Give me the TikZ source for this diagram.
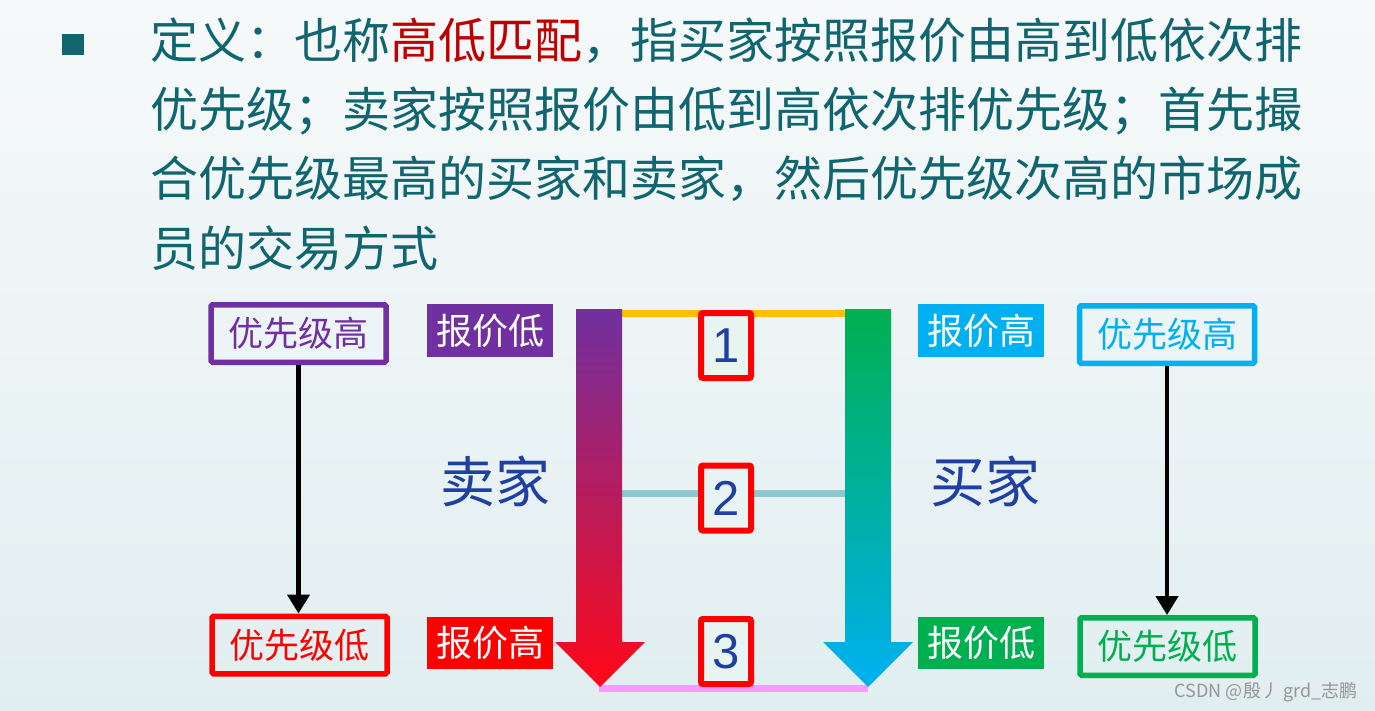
\documentclass[tikz,border=0pt]{standalone}
\usepackage{fontspec}
\usetikzlibrary{arrows.meta}
\newfontfamily\cjk{Noto Sans CJK SC}
\newfontfamily\arialf{Liberation Sans}
\definecolor{titlecol}{HTML}{10656E}
\definecolor{hired}{HTML}{C00000}
\definecolor{purp}{HTML}{7030A0}
\definecolor{redc}{HTML}{FF0000}
\definecolor{cyanc}{HTML}{00B0F0}
\definecolor{greenc}{HTML}{00B050}
\definecolor{navy}{HTML}{1F40A0}
\definecolor{orangec}{HTML}{FFC000}
\definecolor{tealline}{HTML}{8CC8CC}
\definecolor{pinkc}{HTML}{FF99FF}
\definecolor{boxfill}{HTML}{E8F4F1}
\definecolor{bgtop}{HTML}{F6F9FA}
\definecolor{bgbot}{HTML}{E1EEF0}
\begin{document}
\begin{tikzpicture}[x=1pt,y=-1pt,
  titletext/.style={inner sep=0pt, anchor=base west, text=titlecol, font=\cjk\fontsize{48}{58}\selectfont},
  outbox/.style={draw=#1, text=#1, line width=5.5pt, inner sep=0pt, minimum width=175pt, minimum height=57.5pt, font=\cjk\fontsize{35}{40}\selectfont, rounded corners=1.5pt},
  fillbox/.style={fill=#1, text=white, inner sep=0pt, minimum width=126pt, minimum height=52.5pt, font=\cjk\fontsize{36}{40}\selectfont},
  numbox/.style={draw=redc, fill=boxfill, line width=6pt, rounded corners=2pt, inner sep=0pt, minimum width=50pt, minimum height=65pt, text=navy, font=\arialf\fontsize{49}{52}\selectfont},
  sidelabel/.style={inner sep=0pt, text=navy, font=\cjk\fontsize{55}{60}\selectfont},
  prioarrow/.style={line width=4.5pt, draw=black, -{Triangle[width=22pt,length=19pt]}},
  bar/.style={line width=7pt}
]
\useasboundingbox (0,0) rectangle (1375,711);
\shade[top color=bgtop, bottom color=bgbot] (0,0) rectangle (1375,711);

% bullet and title
\fill[titlecol] (62,34) rectangle (84,55);
\node[titletext] (l1) at (150,59) {定义：也称{\color{hired}高低匹配}，指买家按照报价由高到低依次排};
\node[titletext] (l2) at (150,128) {优先级；卖家按照报价由低到高依次排优先级；首先撮};
\node[titletext] (l3) at (150,197) {合优先级最高的买家和卖家，然后优先级次高的市场成};
\node[titletext] (l4) at (150,266) {员的交易方式};

% horizontal match bars
\coordinate (o1) at (619,313); \coordinate (o2) at (845,313);
\coordinate (t1) at (621,493); \coordinate (t2) at (847,493);
\coordinate (p1) at (599,688); \coordinate (p2) at (868,688);
\draw[bar, orangec] (o1) -- (o2);
\draw[bar, tealline] (t1) -- (t2);
\draw[bar, pinkc] (p1) -- (p2);

% big gradient arrows
\shade[top color=purp, middle color={rgb,255:red,196;green,40;blue,122}, bottom color={rgb,255:red,255;green,8;blue,24}]
  (576,309) -- (622,309) -- (622,642) -- (645,642) -- (600,687) -- (555,642) -- (576,642) -- cycle;
\shade[top color=greenc, middle color={rgb,255:red,0;green,176;blue,168}, bottom color=cyanc]
  (845,309) -- (891,309) -- (891,642) -- (913,642) -- (868,687) -- (823,642) -- (845,642) -- cycle;

% number boxes
\node[numbox] (n1) at (726,345.5) {1};
\node[numbox] (n2) at (726,498) {2};
\node[numbox] (n3) at (726,651.5) {3};

% seller side
\node[outbox=purp] (slh) at (298.5,333.5) {优先级高};
\node[outbox=redc] (sll) at (299.5,645) {优先级低};
\node[fillbox=purp] (spl) at (490,330.5) {报价低};
\node[fillbox=redc] (sph) at (490,643) {报价高};
\node[sidelabel] (seller) at (495,481) {卖家};
\draw[prioarrow] (slh.south) -- (slh.south |- sll.north);

% buyer side
\node[outbox=cyanc] (bph2) at (1167,334.5) {优先级高};
\node[outbox=greenc] (bpl2) at (1167.5,646.5) {优先级低};
\node[fillbox=cyanc] (bph) at (981,330.5) {报价高};
\node[fillbox=greenc] (bpl) at (981,643) {报价低};
\node[sidelabel] (buyer) at (985,481) {买家};
\draw[prioarrow] (bph2.south) -- (bph2.south |- bpl2.north);

% watermark
\node[inner sep=0pt, text={rgb,255:red,150;green,150;blue,150}, font=\cjk\fontsize{18}{20}\selectfont] (wm) at (1266,692) {CSDN @殷丿 grd\_志鹏};
\end{tikzpicture}
\end{document}
